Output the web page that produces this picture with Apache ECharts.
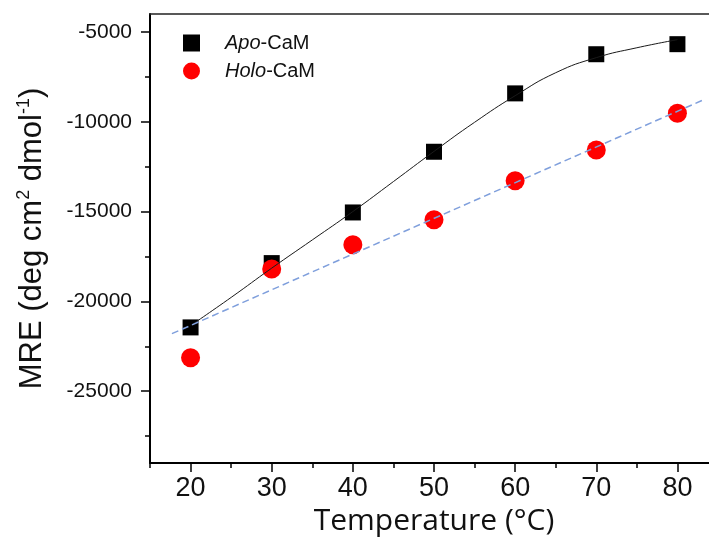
<!DOCTYPE html>
<html><head><meta charset="utf-8">
<script src="https://cdn.jsdelivr.net/npm/echarts@6/dist/echarts.min.js"></script>
<style>html,body{margin:0;padding:0;background:#fff}#c{width:709px;height:537px}</style>
</head><body><div id="c"></div>
<script>
const temperatures = [20, 30, 40, 50, 60, 70, 80];
const apoCaM = [-21450, -17870, -15050, -11670, -8420, -6240, -5680];
const holoCaM = [-23140, -18200, -16850, -15460, -13280, -11570, -9530];
const apoFitT = [20, 25, 30, 35, 40, 45, 50, 55, 60, 65, 70, 75, 80];
const apoFit = [-21350, -19780, -18150, -16580, -15000, -13330, -11650, -10030, -8550, -7270, -6430, -5880, -5430];
const holoFitT = [17.7, 83.1];
const holoFit = [-21800, -8800];
const xMajorTicks = [20, 30, 40, 50, 60, 70, 80];
const xMinorTicks = [15, 25, 35, 45, 55, 65, 75, 85];
const yMajorTicks = [-25000, -20000, -15000, -10000, -5000];
const yMinorTicks = [-27500, -22500, -17500, -12500, -7500];

const zip = (a, b) => a.map((v, i) => [v, b[i]]);
const AR = 'Liberation Sans';

const chart = echarts.init(document.getElementById('c'), null, {renderer: 'canvas'});
chart.setOption({
  animation: false,
  backgroundColor: '#fff',
  grid: {left: 150, top: 14, width: 568, height: 449, outerBoundsMode: 'none', containLabel: false},
  legend: {
    orient: 'vertical', left: 178, top: 28, padding: 5, itemWidth: 17, itemHeight: 17, itemGap: 8,
    data: [{name: 'Apo-CaM', icon: 'rect'}, {name: 'Holo-CaM', icon: 'circle'}],
    formatter: n => n === 'Apo-CaM' ? '{i|Apo}-CaM' : '{i|Holo}-CaM',
    textStyle: {fontFamily: AR, fontSize: 20, color: '#111', padding: [0, 0, 0, 20],
      rich: {i: {fontFamily: AR, fontSize: 20, fontStyle: 'italic', color: '#111'}}}
  },
  xAxis: [
    {type: 'value', min: 15, max: 85, position: 'bottom',
     name: 'Temperature (°C)', nameLocation: 'middle', nameGap: 42,
     nameTextStyle: {fontFamily: 'Open Sans', fontSize: 30, color: '#111'},
     axisLine: {lineStyle: {color: '#000', width: 2}},
     axisTick: {customValues: xMajorTicks, length: 9, lineStyle: {color: '#000', width: 1.5}},
     axisLabel: {customValues: xMajorTicks, margin: 12, fontFamily: AR, fontSize: 27, color: '#111'},
     splitLine: {show: false}},
    {type: 'value', min: 15, max: 85, position: 'bottom',
     axisLine: {show: false},
     axisTick: {customValues: xMinorTicks, length: 5, lineStyle: {color: '#000', width: 1.5}},
     axisLabel: {show: false}, splitLine: {show: false}},
    {type: 'value', min: 15, max: 85, position: 'top',
     axisLine: {lineStyle: {color: '#222', width: 1.5}},
     axisTick: {show: false}, axisLabel: {show: false}, splitLine: {show: false}}
  ],
  yAxis: [
    {type: 'value', min: -29000, max: -4000, position: 'left',
     name: 'MRE (deg cm{sup|2} dmol{sup|-1})', nameLocation: 'middle', nameGap: 100,
     nameTextStyle: {fontFamily: AR, fontSize: 31, color: '#111', lineHeight: 35,
       rich: {sup: {fontFamily: AR, fontSize: 18, verticalAlign: 'top', lineHeight: 35, color: '#111'}}},
     axisLine: {lineStyle: {color: '#000', width: 2}},
     axisTick: {customValues: yMajorTicks, length: 9, lineStyle: {color: '#000', width: 1.5}},
     axisLabel: {customValues: yMajorTicks, margin: 18, fontFamily: AR, fontSize: 21, color: '#111',
       formatter: v => String(v)},
     splitLine: {show: false}},
    {type: 'value', min: -29000, max: -4000, position: 'left',
     axisLine: {show: false},
     axisTick: {customValues: yMinorTicks, length: 5, lineStyle: {color: '#000', width: 1.5}},
     axisLabel: {show: false}, splitLine: {show: false}}
  ],
  series: [
    {name: 'Apo-CaM', type: 'scatter', data: zip(temperatures, apoCaM), symbol: 'rect', symbolSize: 16,
     itemStyle: {color: '#000', opacity: 1}, z: 2},
    {name: 'Holo-CaM', type: 'scatter', data: zip(temperatures, holoCaM), symbol: 'circle', symbolSize: 19,
     itemStyle: {color: '#ff0000', opacity: 1}, z: 3},
    {name: 'Apo fit', type: 'line', data: zip(apoFitT, apoFit), smooth: true, showSymbol: false, symbol: 'none',
     lineStyle: {color: '#1a1a1a', width: 1}, z: 4},
    {name: 'Holo fit', type: 'line', data: zip(holoFitT, holoFit), showSymbol: false, symbol: 'none',
     lineStyle: {color: '#7f9fdc', width: 1.5, type: [7, 4]}, z: 4}
  ]
});
</script></body></html>
